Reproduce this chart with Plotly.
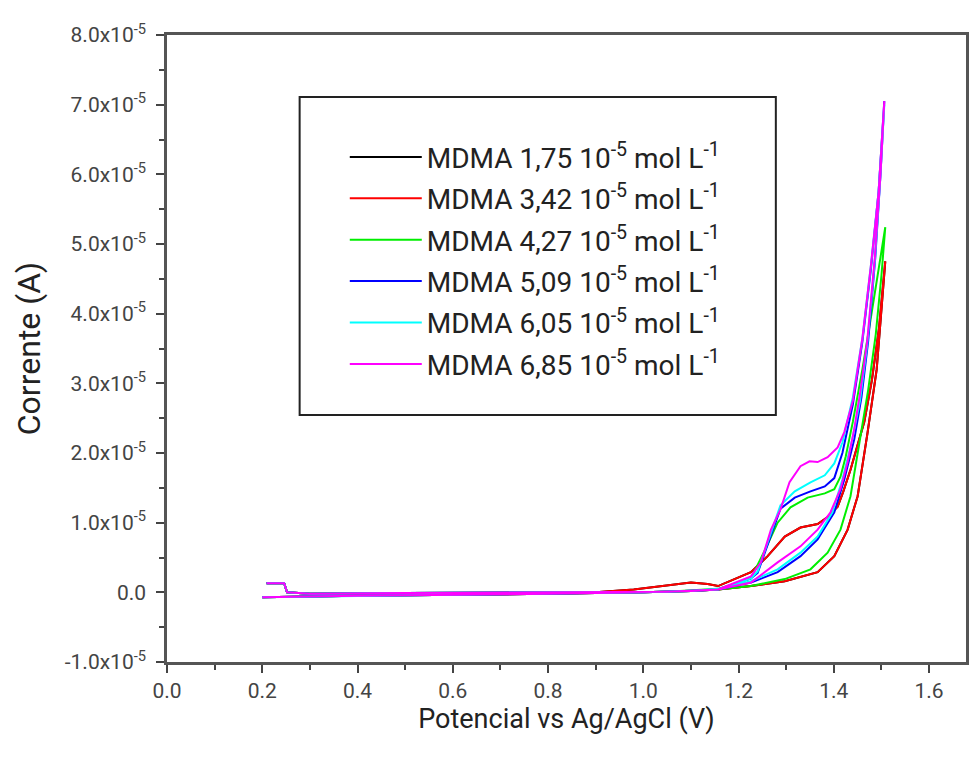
import numpy as np
import plotly.graph_objects as go

# ---- data (potential in V, current in units of 1e-5 A) ----
labels = [
    "MDMA 1,75 10<sup>-5</sup> mol L<sup>-1</sup>",
    "MDMA 3,42 10<sup>-5</sup> mol L<sup>-1</sup>",
    "MDMA 4,27 10<sup>-5</sup> mol L<sup>-1</sup>",
    "MDMA 5,09 10<sup>-5</sup> mol L<sup>-1</sup>",
    "MDMA 6,05 10<sup>-5</sup> mol L<sup>-1</sup>",
    "MDMA 6,85 10<sup>-5</sup> mol L<sup>-1</sup>",
]
colors = ["#000000", "#ff0000", "#00ee00", "#0000ff", "#00ffff", "#ff00ff"]

# red (3,42)
red_v = [0.209, 0.246, 0.252, 0.30, 0.50, 0.70, 0.90, 0.98, 1.05, 1.10, 1.135, 1.157, 1.226, 1.261, 1.297, 1.330, 1.366, 1.387, 1.408, 1.420, 1.435, 1.450, 1.464, 1.480, 1.495, 1.508,
         1.500, 1.490, 1.471, 1.450, 1.429, 1.401, 1.366, 1.297, 1.226, 1.157, 1.10, 1.00, 0.80, 0.60, 0.40, 0.20]
red_i = [0.13, 0.13, 0.00, -0.02, -0.01, 0.00, 0.00, 0.04, 0.10, 0.14, 0.12, 0.09, 0.29, 0.52, 0.80, 0.93, 0.98, 1.08, 1.23, 1.45, 1.76, 2.10, 2.45, 3.05, 3.80, 4.75,
         4.00, 3.20, 2.30, 1.38, 0.90, 0.52, 0.29, 0.16, 0.09, 0.04, 0.02, 0.00, -0.02, -0.03, -0.05, -0.07]

# black (1,75) - drawn first, lies beneath the red trace
black_v = list(red_v)
black_i = list(red_i)

# green (4,27)
green_v = [0.209, 0.246, 0.252, 0.30, 0.50, 0.70, 0.90, 1.05, 1.157, 1.226, 1.255, 1.282, 1.309, 1.345, 1.381, 1.401, 1.414, 1.425, 1.440, 1.460, 1.478, 1.495, 1.508,
           1.500, 1.488, 1.472, 1.456, 1.435, 1.414, 1.387, 1.351, 1.297, 1.226, 1.157, 1.10, 1.00, 0.80, 0.60, 0.40, 0.20]
green_i = [0.13, 0.13, 0.00, -0.02, -0.01, 0.00, 0.00, 0.01, 0.05, 0.20, 0.60, 1.00, 1.22, 1.36, 1.42, 1.48, 1.66, 1.95, 2.45, 3.20, 3.95, 4.65, 5.24,
           4.55, 3.70, 2.90, 2.25, 1.38, 0.90, 0.57, 0.33, 0.19, 0.09, 0.04, 0.02, 0.00, -0.02, -0.03, -0.05, -0.07]

# blue (5,09)
blue_v = [0.209, 0.246, 0.252, 0.30, 0.50, 0.70, 0.90, 1.05, 1.157, 1.226, 1.240, 1.265, 1.288, 1.318, 1.351, 1.381, 1.401, 1.418, 1.440, 1.460, 1.478, 1.494, 1.506,
          1.498, 1.487, 1.472, 1.458, 1.443, 1.422, 1.401, 1.366, 1.330, 1.282, 1.226, 1.157, 1.10, 1.00, 0.80, 0.60, 0.40, 0.20]
blue_i = [0.13, 0.13, 0.00, -0.02, -0.01, 0.00, 0.00, 0.01, 0.04, 0.20, 0.28, 0.75, 1.20, 1.36, 1.45, 1.52, 1.64, 2.00, 2.70, 3.60, 4.65, 5.75, 7.05,
          6.00, 4.80, 3.60, 2.80, 2.20, 1.62, 1.15, 0.76, 0.52, 0.29, 0.14, 0.04, 0.02, 0.00, -0.02, -0.03, -0.05, -0.07]

# cyan (6,05)
cyan_v = [0.209, 0.246, 0.252, 0.30, 0.50, 0.70, 0.90, 1.05, 1.157, 1.226, 1.240, 1.265, 1.288, 1.318, 1.351, 1.381, 1.401, 1.418, 1.440, 1.460, 1.478, 1.494, 1.506,
          1.497, 1.486, 1.470, 1.455, 1.439, 1.418, 1.397, 1.366, 1.330, 1.282, 1.226, 1.157, 1.10, 1.00, 0.80, 0.60, 0.40, 0.20]
cyan_i = [0.13, 0.13, 0.00, -0.02, -0.01, 0.00, 0.00, 0.01, 0.04, 0.20, 0.30, 0.80, 1.25, 1.45, 1.58, 1.68, 1.85, 2.15, 2.80, 3.65, 4.70, 5.75, 7.00,
          5.90, 4.75, 3.55, 2.75, 2.20, 1.62, 1.15, 0.80, 0.57, 0.33, 0.16, 0.05, 0.02, 0.00, -0.02, -0.03, -0.05, -0.07]

# magenta (6,85)
mag_v = [0.209, 0.246, 0.252, 0.30, 0.50, 0.70, 0.90, 1.05, 1.157, 1.226, 1.247, 1.268, 1.288, 1.307, 1.330, 1.349, 1.366, 1.387, 1.408, 1.422, 1.440, 1.460, 1.478, 1.494, 1.506,
         1.498, 1.486, 1.470, 1.455, 1.443, 1.429, 1.414, 1.393, 1.366, 1.330, 1.282, 1.226, 1.157, 1.10, 1.00, 0.80, 0.60, 0.40, 0.20]
mag_i = [0.13, 0.13, 0.00, -0.02, -0.01, 0.00, 0.00, 0.01, 0.04, 0.23, 0.43, 0.90, 1.19, 1.58, 1.81, 1.88, 1.87, 1.94, 2.08, 2.30, 2.75, 3.65, 4.70, 5.75, 7.05,
         6.00, 4.80, 3.60, 2.85, 2.35, 1.87, 1.48, 1.15, 0.90, 0.66, 0.43, 0.14, 0.04, 0.02, 0.00, -0.02, -0.03, -0.05, -0.07]

series_v = [black_v, red_v, green_v, blue_v, cyan_v, mag_v]
series_i = [black_i, red_i, green_i, blue_i, cyan_i, mag_i]

y_tickvals = [-1, 0, 1, 2, 3, 4, 5, 6, 7, 8]
y_ticktext = ["-1.0x10<sup>-5</sup>", "0.0"] + [f"{v}.0x10<sup>-5</sup>" for v in range(1, 9)]
x_tickvals = [0.0, 0.2, 0.4, 0.6, 0.8, 1.0, 1.2, 1.4, 1.6]

fig = go.Figure()
for k in range(len(labels)):
    fig.add_trace(go.Scatter(
        x=series_v[k], y=np.array(series_i[k]) * 1e-5, mode="lines",
        name=labels[k], legendgroup=f"g{k}",
        line=dict(color=colors[k], width=2),
    ))

axis_common = dict(
    showgrid=False, zeroline=False, showline=True, linecolor="#555555", linewidth=2.5,
    ticks="outside", ticklen=8, tickwidth=2, tickcolor="#444444",
    tickfont=dict(family="Roboto", size=21, color="#444444"),
    minor=dict(ticks="outside", ticklen=5, tickwidth=2, tickcolor="#444444"),
)

fig.update_xaxes(
    **axis_common, range=[0, 1.6775], tickvals=x_tickvals,
    ticktext=[f"{v:.1f}" for v in x_tickvals], mirror=True,
    minor_dtick=0.1, minor_tick0=0,
    title=dict(text="Potencial vs Ag/AgCl (V)", font=dict(family="Roboto", size=27, color="#222222"), standoff=0),
)
fig.update_yaxes(
    **axis_common, range=[-1e-5, 8e-5], tickvals=[v * 1e-5 for v in y_tickvals],
    ticktext=y_ticktext, mirror=True, ticklabelstandoff=6,
    minor_dtick=0.5e-5, minor_tick0=0,
    title=dict(text="Corrente (A)", font=dict(family="Roboto", size=32, color="#222222"), standoff=15),
)

fig.add_shape(type="rect", xref="paper", yref="paper", x0=0.166, x1=0.762, y0=0.394, y1=0.901,
              line=dict(color="#222222", width=2), fillcolor="white", layer="below")

fig.update_layout(
    width=969, height=758,
    margin=dict(l=167, r=0, t=35, b=96),
    paper_bgcolor="white", plot_bgcolor="white",
    showlegend=True,
    legend=dict(
        x=0.2225, y=0.845, xanchor="left", yanchor="top",
        bgcolor="rgba(0,0,0,0)", borderwidth=0,
        font=dict(family="Roboto", size=28, color="#222222"),
        itemwidth=72, tracegroupgap=2, traceorder="grouped",
    ),
)

fig.write_html("out.html")
